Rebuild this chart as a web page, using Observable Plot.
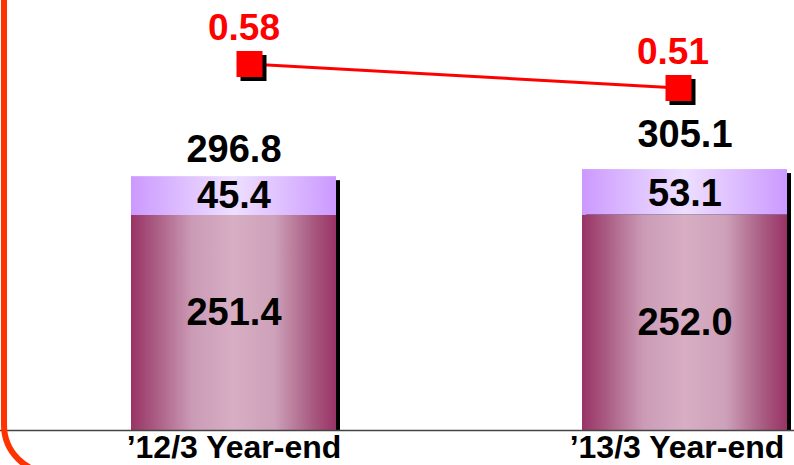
<!DOCTYPE html>
<html><head><meta charset="utf-8">
<script src="https://cdn.jsdelivr.net/npm/d3@7"></script>
<script src="https://cdn.jsdelivr.net/npm/@observablehq/plot@0.6"></script>
<style>
html,body{margin:0;padding:0;background:#fff;overflow:hidden}
#wrap{position:relative;width:794px;height:465px;overflow:hidden;font-family:"Liberation Sans",Arial,sans-serif}
#wrap svg{position:absolute;left:0;top:0}
</style></head><body><div id="wrap"></div>
<script>
// ---- data ----
const categories = ["’12/3 Year-end", "’13/3 Year-end"];
const seriesNames = ["Lower", "Upper"];
const lowerValues = [251.4, 252.0];
const upperValues = [45.4, 53.1];
const totalValues = [296.8, 305.1];
const ratioValues = [0.58, 0.51];

// ---- tables built from the arrays ----
const table = [];
categories.forEach((c, i) => {
  table.push({cat: c, series: "Lower", value: lowerValues[i], base: 0});
  table.push({cat: c, series: "Upper", value: upperValues[i], base: lowerValues[i]});
});
const totals = categories.map((c, i) => ({cat: c, total: totalValues[i]}));
const ratios = categories.map((c, i) => ({cat: c, ratio: ratioValues[i]}));

// ---- layout / style ----
const font = "Liberation Sans, Arial, sans-serif";
const totalDy = [-15, -23], lowerDy = [-10, 0], upperDy = [0, 1.5], catDx = [0, -8];
const numStyle = {fontSize: 38, fontWeight: "bold", fill: "#000", fontFamily: font};

const marks = [
  Plot.barY(totals, {x: "cat", y: "total", fill: "#000", dx: 4, dy: 4, insetBottom: 4}),
  Plot.barY(table, Plot.stackY({x: "cat", y: "value", fill: "series"})),
  Plot.ruleY([0], {stroke: "#444", strokeWidth: 1.5})
];
categories.forEach((c, i) => {
  marks.push(Plot.text(totals.filter(d => d.cat === c), {x: "cat", y: "total", text: d => d.total.toFixed(1), lineAnchor: "bottom", dy: totalDy[i], ...numStyle}));
  marks.push(Plot.text(table.filter(d => d.cat === c && d.series === "Lower"), {x: "cat", y: d => d.base + d.value / 2, text: d => d.value.toFixed(1), lineAnchor: "middle", dy: lowerDy[i], ...numStyle}));
  marks.push(Plot.text(table.filter(d => d.cat === c && d.series === "Upper"), {x: "cat", y: d => d.base + d.value / 2, text: d => d.value.toFixed(1), lineAnchor: "middle", dy: upperDy[i], ...numStyle}));
  marks.push(Plot.text([c], {x: d => d, frameAnchor: "bottom", lineAnchor: "top", dy: 5, dx: catDx[i], fontSize: 32, fontWeight: "bold", fill: "#000", fontFamily: font}));
});

const bars = Plot.plot({
  width: 794, height: 465,
  marginTop: 0, marginBottom: 35, marginLeft: 0, marginRight: 0,
  style: {fontFamily: font, background: "transparent", overflow: "visible"},
  x: {domain: categories, range: [131, 788], paddingInner: 0.545, paddingOuter: 0, axis: null},
  y: {domain: [0, 502.8], axis: null},
  color: {domain: seriesNames, range: ["url(#gradLower)", "url(#gradUpper)"]},
  marks
});

// gradients
const defs = d3.select(bars).insert("defs", ":first-child");
function grad(id, stops) {
  const g = defs.append("linearGradient").attr("id", id).attr("x1", 0).attr("x2", 1).attr("y1", 0).attr("y2", 0);
  stops.forEach(([o, c]) => g.append("stop").attr("offset", o).attr("stop-color", c));
}
grad("gradLower", [[0, "#993366"], [0.12, "#AA5C83"], [0.3, "#CB9BB6"], [0.5, "#D7AEC4"], [0.7, "#CDA1B9"], [0.88, "#A95C82"], [1, "#993366"]]);
grad("gradUpper", [[0, "#CC99FF"], [0.28, "#DFC2FF"], [0.5, "#EEDFFF"], [0.72, "#DFC2FF"], [1, "#CC99FF"]]);

const sq = 14.67;
const ratioPlot = Plot.plot({
  width: 794, height: 465, margin: 0,
  style: {fontFamily: font, background: "transparent", overflow: "visible"},
  x: {type: "point", domain: categories, range: [249, 678], padding: 0, axis: null},
  y: {domain: [0.51, 0.58], range: [87.5, 63.5], axis: null},
  marks: [
    Plot.line(ratios, {x: "cat", y: "ratio", stroke: "#FF0000", strokeWidth: 3}),
    Plot.dot(ratios, {x: "cat", y: "ratio", symbol: "square", r: sq, fill: "#000", dx: 4, dy: 4}),
    Plot.dot(ratios, {x: "cat", y: "ratio", symbol: "square", r: sq, fill: "#FF0000"}),
    Plot.text(ratios, {x: "cat", y: "ratio", text: d => d.ratio.toFixed(2), lineAnchor: "bottom", dy: -24.5, dx: -5.5, fill: "#FF0000", fontSize: 37, fontWeight: "bold", fontFamily: font})
  ]
});

// decorative slide frame (orange rounded left border)
const frameX = 4, frameCornerY = 425, frameR = 48;
d3.select(ratioPlot).append("path")
  .attr("d", `M${frameX},-10 V${frameCornerY} A${frameR},${frameR} 0 0 0 ${frameX + frameR},${frameCornerY + frameR} H 900`)
  .attr("fill", "none").attr("stroke", "#FF3300").attr("stroke-width", 6);

const wrap = document.getElementById("wrap");
wrap.appendChild(bars);
wrap.appendChild(ratioPlot);
</script></body></html>
